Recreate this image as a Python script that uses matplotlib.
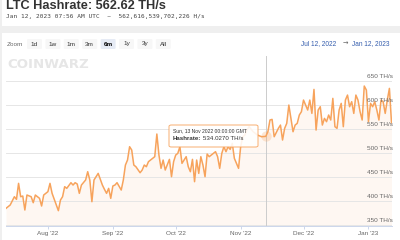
import pandas as pd
import matplotlib
matplotlib.use("Agg")
import matplotlib.pyplot as plt
from matplotlib.patches import Rectangle, FancyBboxPatch
from matplotlib.text import Annotation

TITLE = "LTC Hashrate: 562.62 TH/s"
SUBTITLE = "Jan 12, 2023 07:56 AM UTC  ~  562,616,539,702,226 H/s"
ZOOM_BUTTONS = ["1d", "1w", "1m", "3m", "6m", "1y", "3y", "All"]
SELECTED = "6m"
RANGE_FROM = "Jul 12, 2022"
RANGE_TO = "Jan 12, 2023"
WATERMARK = "COINWARZ"

START = "2022-07-12"
END = "2023-01-12"
# days after START
DAY_OFFSET = [0, 2, 4, 5, 6, 7, 8, 9, 10, 12, 13, 14, 16, 17, 18, 20, 21, 22, 24, 25,
              26, 27, 28, 29, 31, 32, 33, 34, 35, 36, 38, 39, 40, 41, 42, 43, 44, 46, 47, 48,
              49, 50, 51, 52, 53, 55, 56, 57, 58, 59, 60, 61, 62, 64, 65, 66, 67, 68, 70, 71,
              72, 73, 74, 75, 76, 78, 79, 80, 81, 82, 83, 84, 86, 87, 88, 89, 90, 91, 92, 93,
              94, 95, 96, 97, 98, 100, 101, 102, 103, 104, 105, 106, 107, 108, 109, 111, 112, 113, 114, 115,
              116, 118, 120, 122, 124, 125, 126, 127, 128, 130, 131, 132, 133, 134, 135, 136, 137, 138, 139, 140,
              141, 142, 144, 145, 146, 147, 148, 149, 150, 151, 152, 153, 154, 155, 156, 157, 158, 159, 160, 161,
              162, 163, 164, 165, 166, 167, 168, 169, 170, 171, 172, 173, 174, 175, 176, 177, 178, 179, 180, 181,
              182, 183, 184]
HASHRATE = [384.0, 391.0, 408.3, 402.8, 436.1, 408.3, 409.7, 380.6, 411.8, 408.3,
            395.8, 411.8, 404.9, 388.9, 411.8, 418.8, 436.1, 415.3, 391.0, 379.2,
            401.4, 408.3, 429.2, 425.7, 437.5, 432.6, 437.5, 434.7, 415.3, 432.6,
            443.1, 460.4, 443.1, 397.9, 443.1, 450.0, 456.9, 432.6, 423.6, 415.3,
            425.7, 404.9, 430.6, 432.6, 437.5, 422.2, 443.1, 474.3, 484.7, 512.5,
            505.6, 474.3, 470.8, 458.3, 463.9, 474.3, 470.8, 481.3, 488.2, 491.7,
            538.9, 495.1, 467.4, 484.7, 463.9, 486.1, 450.0, 481.3, 495.1, 498.6,
            512.5, 477.8, 491.7, 470.8, 460.4, 486.1, 439.6, 484.7, 456.9, 491.7,
            474.3, 450.0, 497.2, 491.7, 495.1, 502.1, 491.7, 467.4, 498.6, 512.5,
            502.1, 512.5, 506.9, 519.4, 488.2, 467.4, 512.5, 533.3, 536.8, 547.2,
            554.2, 543.7, 536.8, 533.3, 534.027, 543.7, 568.1, 569.4, 533.3, 550.7,
            557.6, 526.4, 550.7, 561.1, 599.3, 571.5, 543.7, 557.6, 561.1, 578.5,
            585.4, 609.7, 588.9, 609.7, 581.9, 631.9, 547.2, 588.9, 595.8, 557.6,
            571.5, 564.6, 578.5, 568.1, 613.2, 554.2, 550.7, 588.9, 602.8, 554.2,
            609.7, 620.1, 595.8, 606.3, 581.9, 620.1, 609.7, 585.4, 568.1, 638.9,
            630.6, 564.6, 602.8, 595.8, 606.3, 588.9, 568.1, 609.7, 606.3, 581.9,
            609.7, 634.0, 562.62]

HOVER_DATE = "2022-11-13"
HOVER_VALUE = 534.0270
HOVER_HEADER = "Sun, 13 Nov 2022 00:00:00 GMT"
Y_TICKS = [350, 400, 450, 500, 550, 600, 650]
MONTH_TICKS = ["2022-08-01", "2022-09-01", "2022-10-01", "2022-11-01", "2022-12-01", "2023-01-01"]
MONTH_LABELS = ["Aug '22", "Sep '22", "Oct '22", "Nov '22", "Dec '22", "Jan '23"]

ORANGE = "#f7a35c"
FONT = "Liberation Sans"
W, H = 400, 240

def fx(x):
    return x / W

def fy(y):
    return 1 - y / H

dates = pd.Timestamp(START) + pd.to_timedelta(DAY_OFFSET, unit="D")

fig = plt.figure(figsize=(4, 2.4), dpi=100)
fig.patch.set_facecolor("#efefef")

# cards (behind everything)
fig.patches.append(Rectangle((fx(2), fy(26)), fx(398), 26 / H, transform=fig.transFigure,
                             facecolor="white", edgecolor="none", zorder=-5))
fig.patches.append(Rectangle((fx(2), 0), fx(398), fy(33), transform=fig.transFigure,
                             facecolor="white", edgecolor="none", zorder=-5))

fig.text(fx(6), fy(9), TITLE, fontsize=9.2, fontweight="bold", family=FONT,
         color="#333333", va="baseline")
fig.text(fx(6), fy(16.5), SUBTITLE, fontsize=4.4, family="DejaVu Sans Mono",
         color="#444444", va="center")

# range selector
fig.text(fx(7), fy(44), "Zoom", fontsize=4.6, family=FONT, color="#666666", va="center")
for i, lab in enumerate(ZOOM_BUTTONS):
    x0 = 27 + i * 18.4
    sel = lab == SELECTED
    fig.patches.append(FancyBboxPatch((fx(x0), fy(49)), 15 / W, 10 / H,
                                      boxstyle="round,pad=0,rounding_size=0.004",
                                      transform=fig.transFigure,
                                      facecolor="#e6ebf5" if sel else "#f7f7f7",
                                      edgecolor="none", zorder=-4))
    fig.text(fx(x0 + 7.5), fy(44), lab, fontsize=4.6, family=FONT, ha="center", va="center",
             color="#000000" if sel else "#333333", fontweight="bold" if sel else "normal")

fig.text(fx(301), fy(43.7), RANGE_FROM, fontsize=4.7, family=FONT, color="#335cad", va="center")
fig.text(fx(345), fy(43.7), "→", fontsize=4.7, family="DejaVu Sans", color="#666666",
         ha="center", va="center")
fig.text(fx(390), fy(43.7), RANGE_TO, fontsize=4.7, family=FONT, color="#335cad",
         ha="right", va="center")

fig.text(fx(7), fy(64.5), WATERMARK, fontsize=9.6, fontweight="heavy", family="DejaVu Sans",
         color="#e6e6e6", va="center", zorder=-3)

# chart
ax = fig.add_axes([fx(6), 1 - 225.5 / H, (391.5 - 6) / W, (225.5 - 56) / H])
ax.set_facecolor("none")
ax.set_xlim(pd.Timestamp(START), pd.Timestamp(END))
ax.set_ylim(348.3, 701.5)

ax.fill_between(dates, HASHRATE, 348.3, color=ORANGE, alpha=0.08, lw=0, zorder=1)
ax.plot(dates, HASHRATE, color=ORANGE, lw=1.1, zorder=3, solid_joinstyle="round")

ax.set_yticks(Y_TICKS)
ax.tick_params(axis="y", length=0, labelleft=False)
ax.grid(axis="y", color="#e6e6e6", lw=0.7, zorder=0)
for v in Y_TICKS:
    ax.annotate(f"{v} TH/s", xy=(1.0, v), xycoords=("axes fraction", "data"),
                xytext=(1, 3), textcoords="offset points", ha="right", va="center",
                fontsize=4.6, family=FONT, color="#666666", zorder=4)

ax.set_xticks(pd.to_datetime(MONTH_TICKS))
ax.set_xticklabels(MONTH_LABELS)
ax.tick_params(axis="x", length=2.5, width=0.7, color="#ccd6eb", labelsize=4.6,
               labelcolor="#666666", pad=1.5)
for lab in ax.get_xticklabels():
    lab.set_family(FONT)
for s in ["top", "left", "right"]:
    ax.spines[s].set_visible(False)
ax.spines["bottom"].set_color("#ccd6eb")
ax.spines["bottom"].set_linewidth(0.7)

# hover state
hd = pd.Timestamp(HOVER_DATE)
ax.axvline(hd, color="#cccccc", lw=0.7, zorder=2)
ax.scatter([hd], [HOVER_VALUE], s=55, color=ORANGE, alpha=0.25, lw=0, zorder=4)

tip = FancyBboxPatch((fx(169), fy(147)), 89 / W, 22 / H,
                     boxstyle="round,pad=0,rounding_size=0.006",
                     transform=fig.transFigure, facecolor="white", alpha=0.88,
                     edgecolor=ORANGE, lw=0.7, zorder=5)
fig.add_artist(tip)
fig.text(fx(173), fy(131), HOVER_HEADER, fontsize=3.6, family=FONT, color="#333333",
         va="center", zorder=6)
t1 = fig.text(fx(173), fy(138.5), "Hashrate:", fontsize=4.4, family=FONT, color="#333333",
              fontweight="bold", va="center", zorder=6)
val = Annotation(f"{HOVER_VALUE:.4f} TH/s", xy=(1, 0.5), xycoords=t1, xytext=(1.2, 0),
                 textcoords="offset points", va="center", fontsize=4.4, family=FONT,
                 color="#333333", zorder=6)
fig.add_artist(val)

fig.savefig("out.png", dpi=100)
